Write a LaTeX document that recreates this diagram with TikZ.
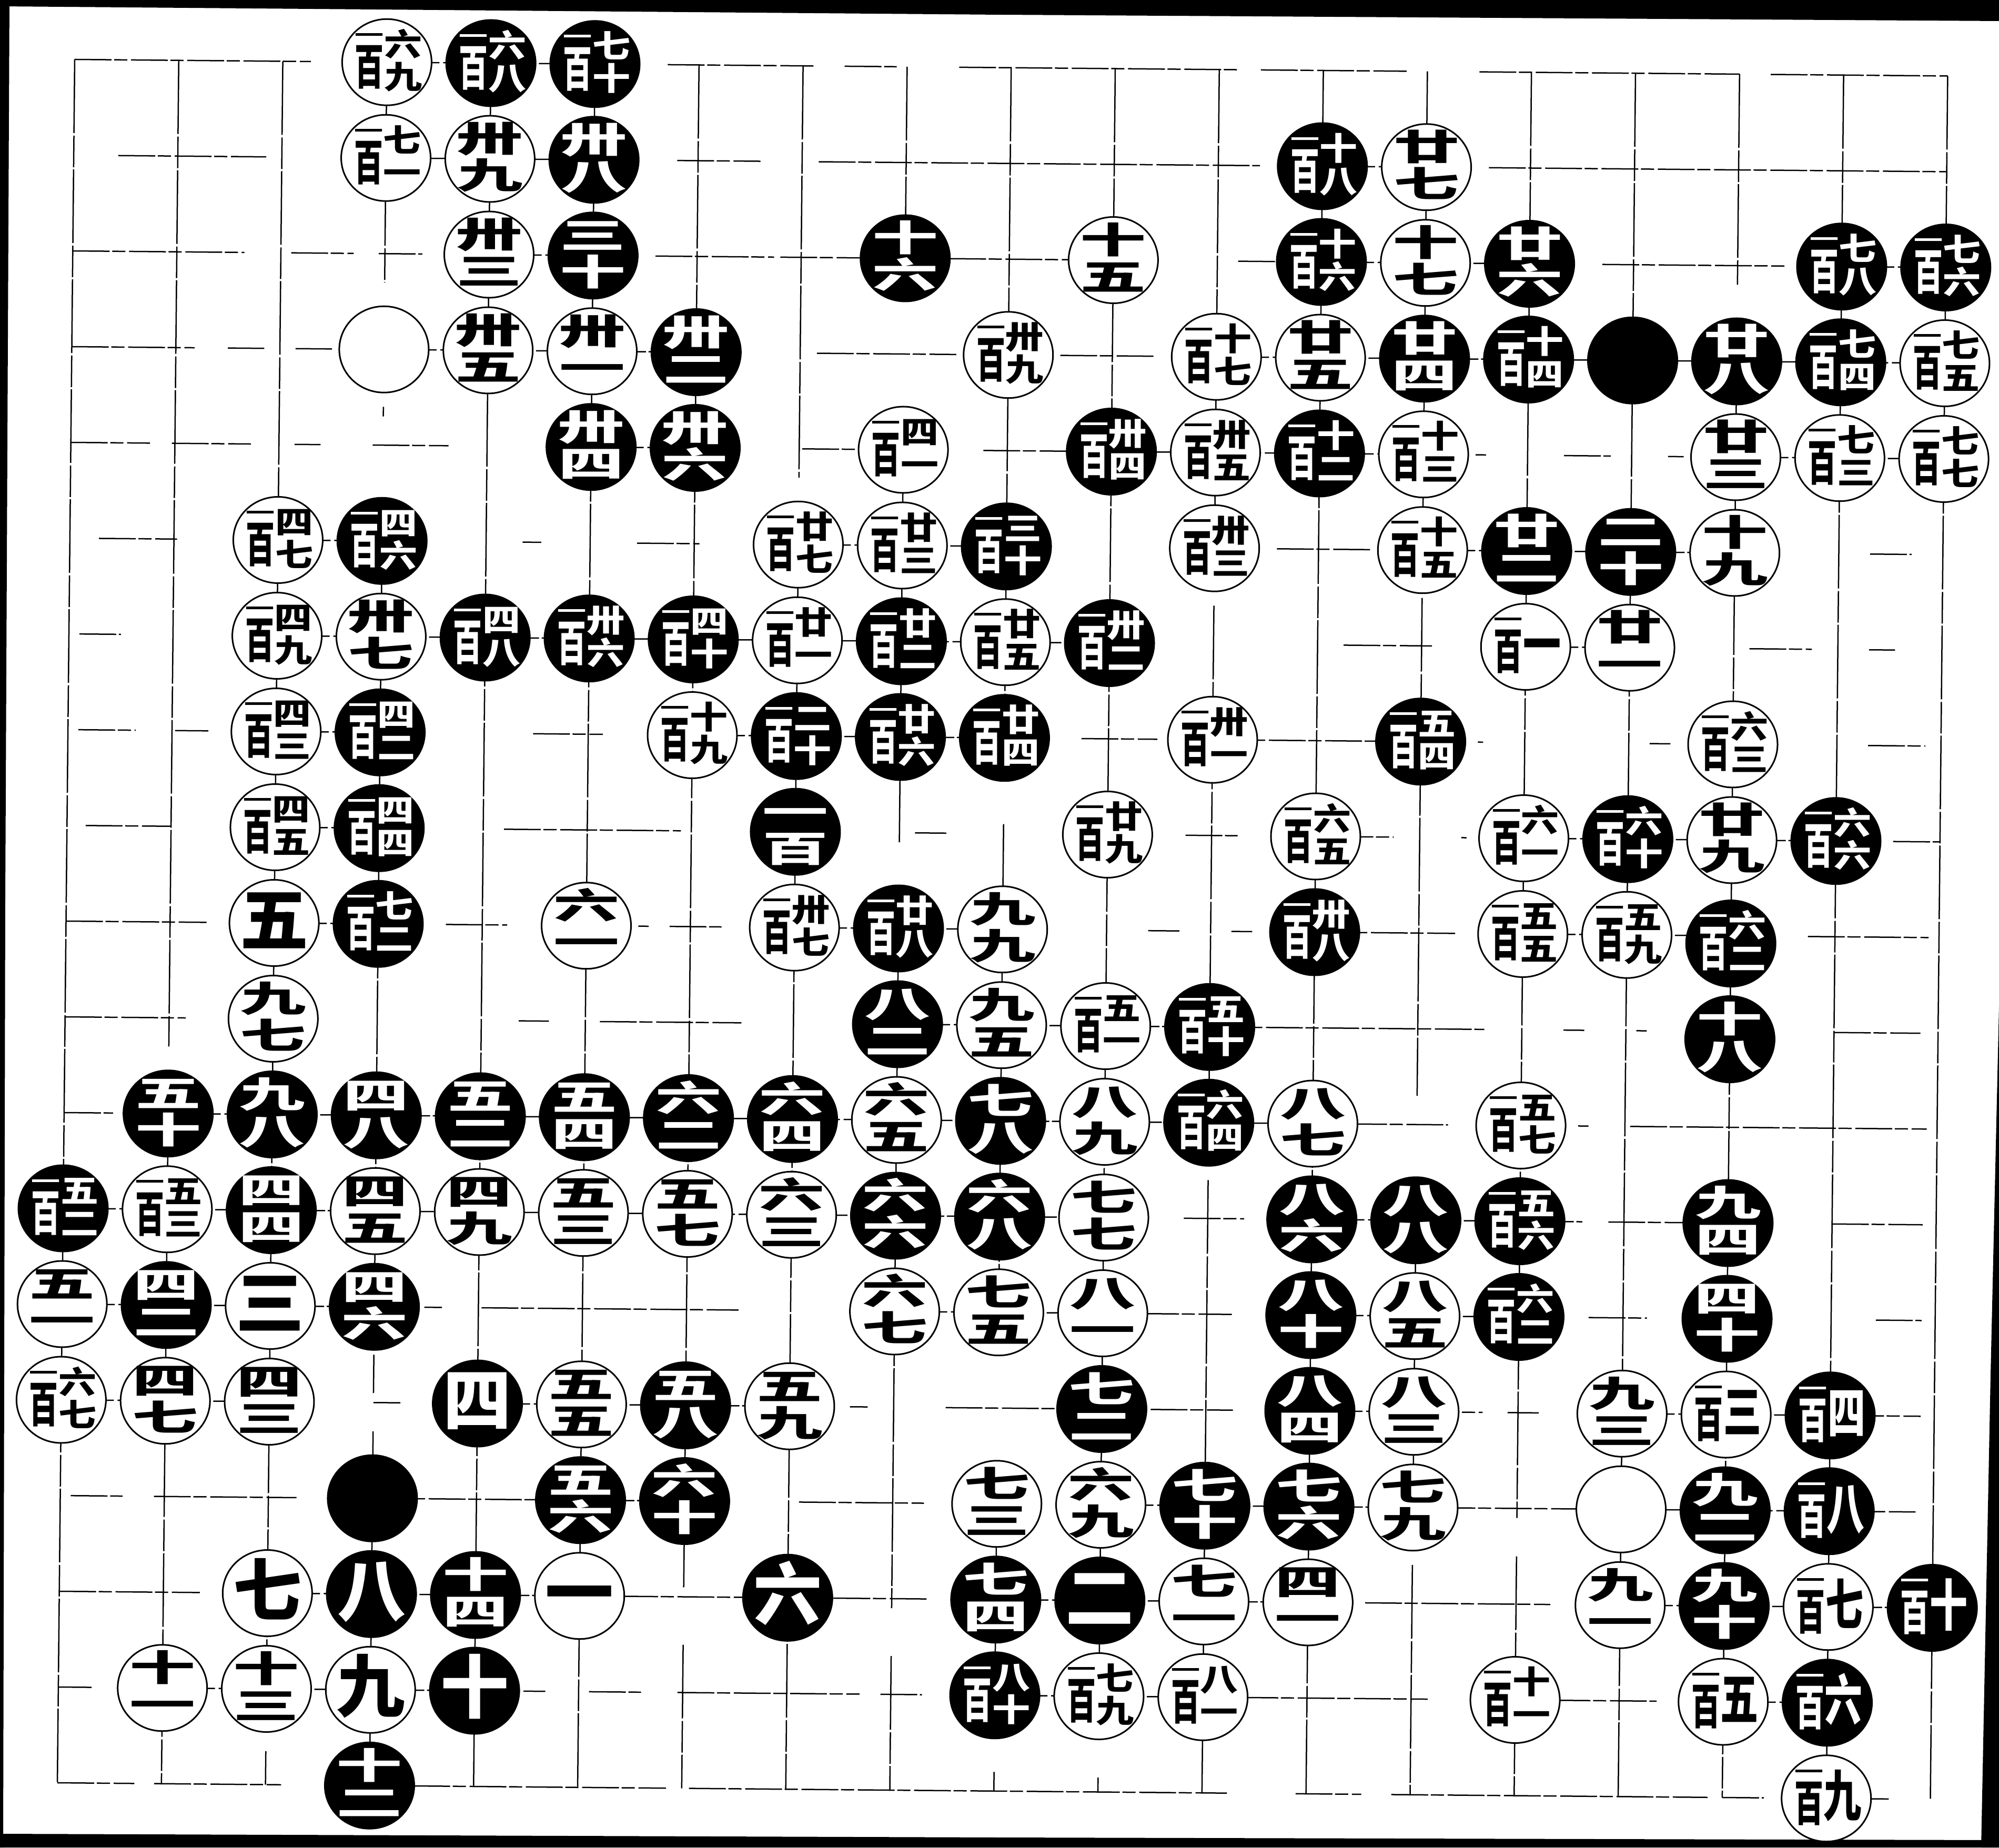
\documentclass[tikz,border=0pt]{standalone}
\usepackage{graphicx}
\usepackage{fontspec}
\newfontfamily\cjk{Noto Sans CJK SC}
\usetikzlibrary{shapes.geometric}
\newcommand{\pl}[5]{\rlap{\hspace*{#1pt}\raisebox{#2pt}[0pt][0pt]{\makebox[0pt][c]{\scalebox{#3}[#4]{\raisebox{-3.2pt}[0pt][0pt]{\fontsize{10}{10}\selectfont #5}}}}}}
\newcommand{\one}[1]{\pl{0}{0}{1.3}{1.3}{#1}}
\newcommand{\two}[2]{\pl{0}{3.5}{1.25}{0.68}{#1}\pl{0}{-3.5}{1.25}{0.68}{#2}}
\newcommand{\hunl}{\pl{-3.3}{5}{0.55}{0.32}{一}\pl{-3.3}{-1.3}{0.55}{0.92}{百}}
\newcommand{\hun}[2]{\hunl\pl{3.1}{3.1}{0.72}{0.6}{#1}\pl{3.1}{-3.1}{0.72}{0.6}{#2}}
\newcommand{\huo}[1]{\hunl\pl{3.1}{0}{0.72}{1.05}{#1}}
\newcommand{\WS}[3]{\node[wst] (s#1x#2) at (#1,#2) {#3};}
\newcommand{\BS}[3]{\node[bst] (s#1x#2) at (#1,#2) {#3};}
\newcommand{\hl}[2]{\foreach \a/\b in {#2}{\draw[gl,dash pattern=on 7pt off 0.5pt on 2.5pt off 0.7pt] (\a,#1) -- (\b,#1);}}
\newcommand{\vl}[2]{\foreach \a/\b in {#2}{\draw[gl,dash pattern=on 14pt off 0.5pt on 6pt off 0.4pt] (#1,\a) -- (#1,\b);}}
\tikzset{
  gl/.style={line width=0.25pt,black,line cap=butt},
  wst/.style={ellipse,draw=black,line width=0.3pt,fill=white,text=black,minimum width=17pt,minimum height=16.4pt,inner sep=0pt,font=\cjk\bfseries},
  bst/.style={ellipse,draw=black,line width=0.3pt,fill=black,text=white,minimum width=17pt,minimum height=16.4pt,inner sep=0pt,font=\cjk\bfseries},
  barfill/.style={fill=black,draw=none}
}
\begin{document}
\begin{tikzpicture}
\useasboundingbox (0pt,0pt) rectangle (380pt,351.2pt);
\fill[white] (0pt,0pt) rectangle (380pt,351.2pt);
\fill[barfill] (0pt,351.2pt) -- (380pt,351.2pt) -- (380pt,347.2pt) -- (190pt,348.4pt) -- (0pt,350pt) -- cycle;
\fill[barfill] (0pt,351.2pt) -- (1.8pt,351.2pt) -- (1pt,180pt) -- (0.6pt,0pt) -- (0pt,0pt) -- cycle;
\fill[barfill] (0pt,0pt) -- (380pt,0pt) -- (380pt,1.4pt) -- (190pt,1.9pt) -- (0pt,2.6pt) -- cycle;
\fill[barfill] (380pt,0pt) -- (376.6pt,0pt) -- (377.4pt,40pt) -- (378.4pt,90pt) -- (380pt,160pt) -- cycle;
\begin{scope}[shift={(14.2pt,339.9pt)},x={(19.78pt,-0.175pt)},y={(-0.183pt,-18.2pt)}]
% horizontal grid lines
\hl{0}{0/2.27,3/5,5.7/7.1,7.4/7.9,8.5/11.2,11.4/12.8,13.5/16,16.3/18}
\hl{1}{0.43/1.85,2.7/5,5.8/6.6,7.16/11.4,12/13,13.6/18}
\hl{2}{0/1.65,2.1/2.7,2.94/3.36,4/5,5.6/6.74,6.8/10,11.2/11.6,12/14,14.7/16.45,17/18}
\hl{3}{0/1.18,1.5/1.85,2.15/2.5,3/6,7.16/8.5,9.5/10.4,11/18}
\hl{4}{0/0.76,0.97/1.73,2.15/2.4,2.9/3.63,5/6,7.03/8,8.77/13,13.5/13.6,14.35/14.8,15.35/15.5,16/18}
\hl{5}{0.28/1.03,2/3,4.35/4.53,5.45/6.05,7/9,10.85/10.9,11.6/12.5,13/16,17.3/17.7}
\hl{6}{0.1/0.5,2/10,12.25/13.1,14/15,16.15/16.75,17.3/17.55}
\hl{7}{0.1/0.65,1.03/1.35,2/3,4.47/5.14,6/9,9.74/10.47,11/13,13.55/13.6,15.2/15.4,17.3/17.85}
\hl{8}{0.18/1,2/3,4.2/5.9,8.15/8.45,10.75/11.25,12.2/12.75,13.4/13.45,14/17,17.55/18}
\hl{9}{0/1.35,2/3,3.65/4.24,5.5/5.6,5.8/6.3,7/9,10.4/10.7,11.2/11.4,12/13.35,14/16,16.74/17.9}
\hl{10}{0/1.16,4.36/4.65,5.14/6.5,8/11,11/13.64,14.4/14.6,15.1/15.2,17/17.83}
\hl{11}{0/0.47,1/13.3,14.55/14.65,15.05/17.9}
\hl{12}{0/10,10.77/11.35,12/14.6,14.85/16,17/17.87}
\hl{13}{0/3,3.48/3.65,4.03/6.5,8/10,10.38/11.24,12/14,14.67/15.23,17.43/17.87}
\hl{14}{0/2,3/3.26,4/7,7.58/7.75,8.5/10,10.47/11.26,12/13.66,13.9/14.2,15/17.87}
\hl{15}{0.1/0.6,0.9/2.27,3/6,7.1/8.3,10/17.83}
\hl{16}{0/1.35,2/5,5.4/7,7.44/8.35,9/12,12.55/14.33,15/18}
\hl{17}{0/0.32,1/4,4.47/4.68,5.1/5.6,5.95/7.7,7.9/8.3,9/11,11.37/13.16,14.37/15.36,16/17}
\hl{18}{0/0.74,0.93/2.15,3.42/5.85,6.07/11.24,11.9/12.53,12.82/15.86,16/16.4,17.4/17.6}
% vertical grid lines
\vl{0}{0/18}
\vl{1}{0/10.3,11/18}
\vl{2}{0/5,5/17,17.65/18}
\vl{3}{0/2.3,3.6/3.7,5/13,13.5/13.9,14.3/14.6,15/18}
\vl{4}{0/18}
\vl{5}{0/18}
\vl{6}{0/13.9,14/15.9,16.5/18}
\vl{7}{0/4.3,5/18}
\vl{8}{0/2,4/8.1,9/16.1,16.6/18}
\vl{9}{0/7.4,7.9/13.4,14.6/14.9,15/17,17.8/18}
\vl{10}{0/17,17.85/18}
\vl{11}{0/5,5.6/11,11.6/18}
\vl{12}{0/18}
\vl{13}{0/0.7,1/5,5.5/10.7,12/15,15.6/18}
\vl{14}{0/15.1,15.5/18}
\vl{15}{0/18}
\vl{16}{0/2.2,3/18}
\vl{17}{0/18}
\vl{18}{0/18}
% stones
\WS{3}{0}{\hun{六}{九}}\BS{4}{0}{\hun{六}{八}}\BS{5}{0}{\hun{七}{十}}
\WS{3}{1}{\hun{七}{一}}\WS{4}{1}{\two{卅}{九}}\BS{5}{1}{\two{卅}{八}}\BS{12}{1}{\hun{十}{八}}\WS{13}{1}{\two{廿}{七}}
\WS{4}{2}{\two{卅}{三}}\BS{5}{2}{\two{三}{十}}\BS{8}{2}{\two{十}{六}}\WS{10}{2}{\two{十}{五}}\BS{12}{2}{\hun{十}{六}}\WS{13}{2}{\two{十}{七}}\BS{14}{2}{\two{廿}{六}}\BS{17}{2}{\hun{七}{八}}\BS{18}{2}{\hun{七}{六}}
\WS{3}{3}{}\WS{4}{3}{\two{卅}{五}}\WS{5}{3}{\two{卅}{一}}\BS{6}{3}{\two{卅}{二}}\WS{9}{3}{\hun{卅}{九}}\WS{11}{3}{\hun{十}{七}}\WS{12}{3}{\two{廿}{五}}\BS{13}{3}{\two{廿}{四}}\BS{14}{3}{\hun{十}{四}}\BS{15}{3}{}\BS{16}{3}{\two{廿}{八}}\BS{17}{3}{\hun{七}{四}}\WS{18}{3}{\hun{七}{五}}
\BS{5}{4}{\two{卅}{四}}\BS{6}{4}{\two{卅}{六}}\WS{8}{4}{\hun{四}{一}}\BS{10}{4}{\hun{卅}{四}}\WS{11}{4}{\hun{卅}{五}}\BS{12}{4}{\hun{十}{二}}\WS{13}{4}{\hun{十}{三}}\WS{16}{4}{\two{廿}{三}}\WS{17}{4}{\hun{七}{三}}\WS{18}{4}{\hun{七}{七}}
\WS{2}{5}{\hun{四}{七}}\BS{3}{5}{\hun{四}{六}}\WS{7}{5}{\hun{廿}{七}}\WS{8}{5}{\hun{廿}{三}}\BS{9}{5}{\hun{三}{十}}\WS{11}{5}{\hun{卅}{三}}\WS{13}{5}{\hun{十}{五}}\BS{14}{5}{\two{廿}{二}}\BS{15}{5}{\two{二}{十}}\WS{16}{5}{\two{十}{九}}
\WS{2}{6}{\hun{四}{九}}\WS{3}{6}{\two{卅}{七}}\BS{4}{6}{\hun{四}{八}}\BS{5}{6}{\hun{卅}{六}}\BS{6}{6}{\hun{四}{十}}\WS{7}{6}{\hun{廿}{一}}\BS{8}{6}{\hun{廿}{二}}\WS{9}{6}{\hun{廿}{五}}\BS{10}{6}{\hun{卅}{二}}\WS{14}{6}{\huo{一}}\WS{15}{6}{\two{廿}{一}}
\WS{2}{7}{\hun{四}{三}}\BS{3}{7}{\hun{四}{二}}\WS{6}{7}{\hun{十}{九}}\BS{7}{7}{\hun{二}{十}}\BS{8}{7}{\hun{廿}{六}}\BS{9}{7}{\hun{廿}{四}}\WS{11}{7}{\hun{卅}{一}}\BS{13}{7}{\hun{五}{四}}\WS{16}{7}{\hun{六}{三}}
\WS{2}{8}{\hun{四}{五}}\BS{3}{8}{\hun{四}{四}}\BS{7}{8}{\two{一}{百}}\WS{10}{8}{\hun{廿}{九}}\WS{12}{8}{\hun{六}{五}}\WS{14}{8}{\hun{六}{一}}\BS{15}{8}{\hun{六}{十}}\WS{16}{8}{\two{廿}{九}}\BS{17}{8}{\hun{六}{六}}
\WS{2}{9}{\one{五}}\BS{3}{9}{\hun{七}{二}}\WS{5}{9}{\two{六}{一}}\WS{7}{9}{\hun{卅}{七}}\BS{8}{9}{\hun{廿}{八}}\WS{9}{9}{\two{九}{九}}\BS{12}{9}{\hun{卅}{八}}\WS{14}{9}{\hun{五}{五}}\WS{15}{9}{\hun{五}{九}}\BS{16}{9.08}{\hun{六}{二}}
\WS{2}{10}{\two{九}{七}}\BS{8}{10}{\two{八}{二}}\WS{9}{10}{\two{九}{五}}\WS{10}{10}{\hun{五}{一}}\BS{11}{10}{\hun{五}{十}}\BS{16}{10.08}{\two{十}{八}}
\BS{1}{11}{\two{五}{十}}\BS{2}{11}{\two{九}{八}}\BS{3}{11}{\two{四}{八}}\BS{4}{11}{\two{五}{二}}\BS{5}{11}{\two{五}{四}}\BS{6}{11}{\two{六}{二}}\BS{7}{11}{\two{六}{四}}\WS{8}{11}{\two{六}{五}}\BS{9}{11}{\two{七}{八}}\WS{10}{11}{\two{八}{九}}\BS{11}{11}{\hun{六}{四}}\WS{12}{11}{\two{八}{七}}\WS{14}{11}{\hun{五}{七}}
\BS{0}{12}{\hun{五}{二}}\WS{1}{12}{\hun{五}{三}}\BS{2}{12}{\two{四}{四}}\WS{3}{12}{\two{四}{五}}\WS{4}{12}{\two{四}{九}}\WS{5}{12}{\two{五}{三}}\WS{6}{12}{\two{五}{七}}\WS{7}{12}{\two{六}{三}}\BS{8}{12}{\two{六}{六}}\BS{9}{12}{\two{六}{八}}\WS{10}{12}{\two{七}{七}}\BS{12}{12}{\two{八}{六}}\BS{13}{12}{\two{八}{八}}\BS{14}{12}{\hun{五}{六}}\BS{16}{12}{\two{九}{四}}
\WS{0}{13}{\two{五}{一}}\BS{1}{13}{\two{四}{二}}\WS{2}{13}{\one{三}}\BS{3}{13}{\two{四}{六}}\WS{8}{13}{\two{六}{七}}\WS{9}{13}{\two{七}{五}}\WS{10}{13}{\two{八}{一}}\BS{12}{13}{\two{八}{十}}\WS{13}{13}{\two{八}{五}}\BS{14}{13}{\hun{六}{二}}\BS{16}{13}{\two{四}{十}}
\WS{0}{14}{\hun{六}{七}}\WS{1}{14}{\two{四}{七}}\WS{2}{14}{\two{四}{三}}\BS{4}{14}{\one{四}}\WS{5}{14}{\two{五}{五}}\BS{6}{14}{\two{五}{八}}\WS{7}{14}{\two{五}{九}}\BS{10}{14}{\two{七}{二}}\BS{12}{14}{\two{八}{四}}\WS{13}{14}{\two{八}{三}}\WS{15}{14}{\two{九}{三}}\WS{16}{14}{\huo{三}}\BS{17}{14}{\huo{四}}
\BS{3}{15}{}\BS{5}{15}{\two{五}{六}}\BS{6}{15}{\two{六}{十}}\WS{9}{15}{\two{七}{三}}\WS{10}{15}{\two{六}{九}}\BS{11}{15}{\two{七}{十}}\BS{12}{15}{\two{七}{六}}\WS{13}{15}{\two{七}{九}}\WS{15}{15}{}\BS{16}{15}{\two{九}{二}}\BS{17}{15}{\huo{八}}
\WS{2}{16}{\one{七}}\BS{3}{16}{\one{八}}\BS{4}{16}{\two{十}{四}}\WS{5}{16}{\one{一}}\BS{7}{16}{\one{六}}\BS{9}{16}{\two{七}{四}}\BS{10}{16}{\one{二}}\WS{11}{16}{\two{七}{一}}\WS{12}{16}{\two{四}{一}}\WS{15}{16}{\two{九}{一}}\BS{16}{16}{\two{九}{十}}\WS{17}{16}{\huo{七}}\BS{18}{16}{\huo{十}}
\WS{1}{17}{\two{十}{一}}\WS{2}{17}{\two{十}{三}}\WS{3}{17}{\one{九}}\BS{4}{17}{\one{十}}\BS{9}{17}{\hun{八}{十}}\WS{10}{17}{\hun{七}{九}}\WS{11}{17}{\hun{八}{一}}\WS{14}{17}{\hun{十}{一}}\WS{16}{17}{\huo{五}}\BS{17}{17}{\huo{六}}
\BS{3}{18}{\two{十}{二}}\WS{17}{18}{\huo{九}}
\end{scope}
\end{tikzpicture}
\end{document}
